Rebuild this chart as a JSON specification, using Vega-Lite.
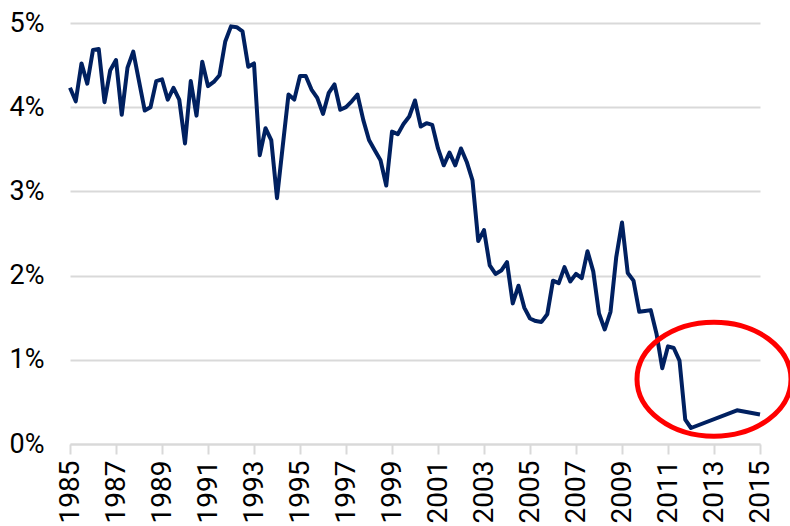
{
  "$schema": "https://vega.github.io/schema/vega-lite/v6.json",
  "width": 690,
  "height": 421,
  "autosize": {"type": "none"},
  "padding": {"left": 70, "top": 23, "right": 30, "bottom": 82},
  "background": "white",
  "config": {"view": {"stroke": null}, "font": "Roboto"},
  "layer": [
    {
      "data": {"values": [
        {"t": 1985.0, "v": 4.23}, {"t": 1985.25, "v": 4.07}, {"t": 1985.5, "v": 4.52}, {"t": 1985.75, "v": 4.28},
        {"t": 1986.0, "v": 4.68}, {"t": 1986.25, "v": 4.69}, {"t": 1986.5, "v": 4.06}, {"t": 1986.75, "v": 4.44},
        {"t": 1987.0, "v": 4.56}, {"t": 1987.25, "v": 3.91}, {"t": 1987.5, "v": 4.47}, {"t": 1987.75, "v": 4.66},
        {"t": 1988.0, "v": 4.31}, {"t": 1988.25, "v": 3.96}, {"t": 1988.5, "v": 4.0}, {"t": 1988.75, "v": 4.31},
        {"t": 1989.0, "v": 4.33}, {"t": 1989.25, "v": 4.09}, {"t": 1989.5, "v": 4.23}, {"t": 1989.75, "v": 4.09},
        {"t": 1990.0, "v": 3.57}, {"t": 1990.25, "v": 4.31}, {"t": 1990.5, "v": 3.9}, {"t": 1990.75, "v": 4.54},
        {"t": 1991.0, "v": 4.25}, {"t": 1991.25, "v": 4.3}, {"t": 1991.5, "v": 4.38}, {"t": 1991.75, "v": 4.78},
        {"t": 1992.0, "v": 4.96}, {"t": 1992.25, "v": 4.95}, {"t": 1992.5, "v": 4.9}, {"t": 1992.75, "v": 4.48},
        {"t": 1993.0, "v": 4.52}, {"t": 1993.25, "v": 3.43}, {"t": 1993.5, "v": 3.75}, {"t": 1993.75, "v": 3.61},
        {"t": 1994.0, "v": 2.92}, {"t": 1994.25, "v": 3.54}, {"t": 1994.5, "v": 4.15}, {"t": 1994.75, "v": 4.09},
        {"t": 1995.0, "v": 4.37}, {"t": 1995.25, "v": 4.37}, {"t": 1995.5, "v": 4.21}, {"t": 1995.75, "v": 4.11},
        {"t": 1996.0, "v": 3.92}, {"t": 1996.25, "v": 4.17}, {"t": 1996.5, "v": 4.27}, {"t": 1996.75, "v": 3.97},
        {"t": 1997.0, "v": 4.0}, {"t": 1997.25, "v": 4.07}, {"t": 1997.5, "v": 4.15}, {"t": 1997.75, "v": 3.85},
        {"t": 1998.0, "v": 3.61}, {"t": 1998.25, "v": 3.49}, {"t": 1998.5, "v": 3.37}, {"t": 1998.75, "v": 3.07},
        {"t": 1999.0, "v": 3.71}, {"t": 1999.25, "v": 3.68}, {"t": 1999.5, "v": 3.8}, {"t": 1999.75, "v": 3.89},
        {"t": 2000.0, "v": 4.08}, {"t": 2000.25, "v": 3.77}, {"t": 2000.5, "v": 3.81}, {"t": 2000.75, "v": 3.79},
        {"t": 2001.0, "v": 3.51}, {"t": 2001.25, "v": 3.31}, {"t": 2001.5, "v": 3.46}, {"t": 2001.75, "v": 3.31},
        {"t": 2002.0, "v": 3.51}, {"t": 2002.25, "v": 3.35}, {"t": 2002.5, "v": 3.13}, {"t": 2002.75, "v": 2.41},
        {"t": 2003.0, "v": 2.54}, {"t": 2003.25, "v": 2.12}, {"t": 2003.5, "v": 2.02}, {"t": 2003.75, "v": 2.06},
        {"t": 2004.0, "v": 2.16}, {"t": 2004.25, "v": 1.67}, {"t": 2004.5, "v": 1.88}, {"t": 2004.75, "v": 1.62},
        {"t": 2005.0, "v": 1.49}, {"t": 2005.25, "v": 1.46}, {"t": 2005.5, "v": 1.45}, {"t": 2005.75, "v": 1.54},
        {"t": 2006.0, "v": 1.94}, {"t": 2006.25, "v": 1.91}, {"t": 2006.5, "v": 2.1}, {"t": 2006.75, "v": 1.93},
        {"t": 2007.0, "v": 2.02}, {"t": 2007.25, "v": 1.97}, {"t": 2007.5, "v": 2.29}, {"t": 2007.75, "v": 2.05},
        {"t": 2008.0, "v": 1.55}, {"t": 2008.25, "v": 1.36}, {"t": 2008.5, "v": 1.57}, {"t": 2008.75, "v": 2.22},
        {"t": 2009.0, "v": 2.63}, {"t": 2009.25, "v": 2.03}, {"t": 2009.5, "v": 1.94}, {"t": 2009.75, "v": 1.57},
        {"t": 2010.0, "v": 1.58}, {"t": 2010.25, "v": 1.59}, {"t": 2010.5, "v": 1.31}, {"t": 2010.75, "v": 0.9},
        {"t": 2011.0, "v": 1.16}, {"t": 2011.25, "v": 1.14}, {"t": 2011.5, "v": 0.99}, {"t": 2011.75, "v": 0.29},
        {"t": 2012.0, "v": 0.19}, {"t": 2014.0, "v": 0.4}, {"t": 2015.0, "v": 0.35}
      ]},
      "mark": {"type": "line", "color": "#002060", "strokeWidth": 4, "strokeJoin": "round"},
      "encoding": {
        "x": {
          "field": "t", "type": "quantitative",
          "scale": {"domain": [1985, 2015], "nice": false, "zero": false},
          "axis": {
            "title": null,
            "values": [1985, 1987, 1989, 1991, 1993, 1995, 1997, 1999, 2001, 2003, 2005, 2007, 2009, 2011, 2013, 2015],
            "format": "d",
            "labelAngle": -90,
            "labelFontSize": 28,
            "labelColor": "#000000",
            "labelPadding": 6,
            "labelFlush": false,
            "labelOverlap": false,
            "tickSize": 10,
            "tickColor": "#D9D9D9",
            "tickWidth": 2,
            "domainColor": "#D9D9D9",
            "domainWidth": 2,
            "grid": false
          }
        },
        "y": {
          "field": "v", "type": "quantitative",
          "scale": {"domain": [0, 5], "nice": false},
          "axis": {
            "title": null,
            "values": [0, 1, 2, 3, 4, 5],
            "labelExpr": "datum.value + '%'",
            "labelFontSize": 27,
            "labelColor": "#000000",
            "labelPadding": 26,
            "domain": false,
            "ticks": false,
            "grid": true,
            "gridColor": "#D9D9D9",
            "gridWidth": 2
          }
        }
      }
    },
    {
      "data": {"values": [{"t": 2013, "v": 0.77}]},
      "mark": {
        "type": "point",
        "shape": "M -1 0 A 1 0.74 0 1 0 1 0 A 1 0.74 0 1 0 -1 0 Z",
        "size": 23716,
        "filled": false,
        "stroke": "#FF0000",
        "strokeWidth": 5,
        "opacity": 1
      },
      "encoding": {
        "x": {"field": "t", "type": "quantitative"},
        "y": {"field": "v", "type": "quantitative"}
      }
    }
  ]
}
